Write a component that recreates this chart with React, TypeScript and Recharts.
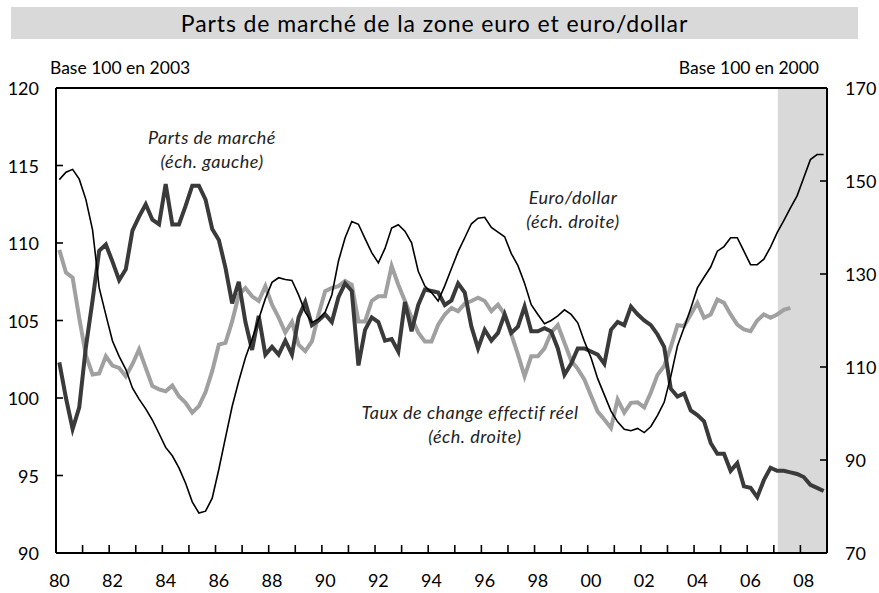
import React from 'react';
import { ComposedChart, Line, XAxis, YAxis, ReferenceArea, ReferenceLine } from 'recharts';

// Quarterly data, 1980Q1 .. 2008Q4
const firstYear = 1980;
const lastYear = 2009;

// Parts de marché (base 100 en 2003, échelle gauche)
const partsDeMarche = [
  102.3, 100.0, 98.0, 99.4, 103.3, 106.3, 109.5, 109.9, 108.8, 107.6,
  108.3, 110.8, 111.7, 112.5, 111.5, 111.2, 113.8, 111.2, 111.2, 112.4,
  113.7, 113.7, 112.8, 110.9, 110.2, 108.4, 106.1, 107.5, 104.9, 103.1,
  105.3, 102.8, 103.3, 102.8, 103.7, 102.8, 105.2, 106.2, 104.7, 105.0,
  105.4, 104.9, 106.5, 107.4, 106.9, 102.1, 104.4, 105.2, 104.9, 103.7,
  103.8, 103.0, 106.2, 104.3, 106.0, 107.0, 106.9, 106.8, 106.0, 106.3,
  107.4, 106.8, 104.6, 103.2, 104.4, 103.7, 104.2, 105.4, 104.2, 104.6,
  105.9, 104.3, 104.3, 104.5, 104.3, 103.2, 101.5, 102.2, 103.2, 103.2,
  103.0, 102.8, 102.2, 104.4, 104.9, 104.7, 105.9, 105.4, 105.0, 104.7,
  104.1, 103.3, 100.6, 100.1, 100.3, 99.2, 98.9, 98.5, 97.1, 96.4,
  96.4, 95.3, 95.8, 94.3, 94.2, 93.6, 94.7, 95.5, 95.3, 95.3,
  95.2, 95.1, 94.9, 94.4, 94.2, 94.0,
];

// Euro/dollar (base 100 en 2000, échelle droite)
const euroDollar = [
  150.3, 151.9, 152.5, 150.4, 146.0, 139.5, 127.0, 121.2, 115.6, 112.3,
  109.5, 105.5, 103.1, 101.0, 98.6, 95.7, 92.7, 90.9, 88.3, 85.0,
  81.0, 78.6, 79.0, 81.8, 88.0, 94.8, 101.5, 107.0, 112.0, 116.0,
  120.3, 124.7, 128.2, 129.2, 128.8, 128.6, 125.5, 121.8, 119.6, 120.3,
  121.8, 125.5, 132.8, 137.8, 141.3, 140.7, 137.6, 134.6, 132.4, 135.5,
  139.9, 140.6, 139.2, 136.7, 130.6, 127.4, 126.0, 124.2, 127.5, 131.2,
  134.8, 137.8, 140.8, 142.0, 142.2, 140.0, 139.0, 138.0, 134.4, 131.8,
  128.0, 123.4, 121.3, 119.3, 120.0, 121.0, 122.3, 121.3, 119.5, 115.5,
  112.0, 107.5, 104.0, 100.5, 98.2, 96.6, 96.3, 96.8, 95.9, 97.2,
  99.6, 102.4, 108.0, 114.5, 118.5, 122.6, 127.0, 129.3, 131.5, 134.9,
  135.9, 137.8, 137.8, 134.9, 132.0, 132.0, 133.2, 135.8, 138.9, 141.5,
  144.2, 146.8, 150.7, 154.6, 155.7, 155.7,
];

// Taux de change effectif réel (échelle droite), jusqu'à 2007T3
const tcer = [
  135.2, 130.3, 129.2, 120.5, 112.5, 108.4, 108.6, 112.3, 110.3, 109.8,
  108.0, 110.6, 113.8, 109.8, 105.9, 105.2, 104.8, 106.0, 103.7, 102.3,
  100.2, 101.6, 104.6, 109.1, 114.8, 115.2, 119.8, 125.5, 127.0, 125.2,
  124.2, 127.4, 123.4, 120.6, 117.4, 119.7, 114.8, 113.4, 115.5, 121.3,
  126.3, 127.0, 127.4, 128.5, 127.7, 119.8, 119.8, 124.2, 125.2, 125.2,
  131.7, 127.7, 124.2, 120.6, 117.4, 115.5, 115.5, 119.1, 121.3, 122.7,
  122.0, 123.6, 124.2, 124.9, 124.2, 122.0, 123.4, 121.3, 117.0, 112.7,
  108.0, 112.3, 112.3, 114.0, 117.4, 119.0, 115.2, 111.4, 109.6, 107.3,
  103.8, 100.4, 98.7, 96.9, 103.0, 100.2, 102.3, 102.4, 101.3, 104.5,
  108.3, 110.2, 114.3, 119.0, 118.8, 121.3, 123.8, 120.6, 121.3, 124.5,
  123.8, 121.3, 119.1, 118.1, 117.7, 120.0, 121.3, 120.6, 121.3, 122.3,
  122.7,
];

const leftTicks = [90, 95, 100, 105, 110, 115, 120];
const rightTicks = [70, 90, 110, 130, 150, 170];
const labelYears = [1980, 1982, 1984, 1986, 1988, 1990, 1992, 1994, 1996, 1998, 2000, 2002, 2004, 2006, 2008];
const forecastStart = 2007.15;

const data = partsDeMarche.map((v, i) => ({
  t: firstYear + (i + 0.5) / 4,
  pdm: v,
  ed: euroDollar[i],
  tcer: i < tcer.length ? tcer[i] : null,
}));

// tick marks at each year boundary, labels at the first quarter of even years
const yearBoundaries: number[] = [];
for (let y = firstYear; y <= lastYear; y++) yearBoundaries.push(y);
const labelPositions = labelYears.map((y) => y + 0.125);
const xTicks = [...yearBoundaries, ...labelPositions].sort((a, b) => a - b);

const FONT = 'Lato, "Open Sans", sans-serif';

const XTick = (props: any) => {
  const { x, y, payload } = props;
  const v = payload.value as number;
  if (Number.isInteger(v)) {
    if (v <= firstYear || v >= lastYear) return <g />;
    return <line x1={x} x2={x} y1={y} y2={y - 8} stroke="#000" strokeWidth={1.6} />;
  }
  const yr = Math.floor(v) % 100;
  return (
    <text x={x} y={y + 27} textAnchor="middle" dominantBaseline="central" fontFamily={FONT} fontSize={18} fill="#000">
      {String(yr).padStart(2, '0')}
    </text>
  );
};

const LeftTick = (props: any) => {
  const { x, y, payload } = props;
  const v = payload.value as number;
  return (
    <g>
      {v !== 90 && v !== 120 && <line x1={x} x2={x + 7} y1={y} y2={y} stroke="#000" strokeWidth={1.6} />}
      <text x={x - 17} y={y} textAnchor="end" dominantBaseline="central" fontFamily={FONT} fontSize={18} fill="#000">
        {v}
      </text>
    </g>
  );
};

const RightTick = (props: any) => {
  const { x, y, payload } = props;
  const v = payload.value as number;
  return (
    <g>
      {v !== 70 && v !== 170 && <line x1={x - 7} x2={x} y1={y} y2={y} stroke="#000" strokeWidth={1.6} />}
      <text x={x + 18} y={y} textAnchor="start" dominantBaseline="central" fontFamily={FONT} fontSize={18} fill="#000">
        {v}
      </text>
    </g>
  );
};

const note: React.CSSProperties = {
  position: 'absolute',
  transform: 'translate(-50%, -50%)',
  whiteSpace: 'nowrap',
  fontStyle: 'italic',
  fontSize: 18,
  letterSpacing: 0.5,
  color: '#222',
  fontFamily: FONT,
};

export default function App() {
  return (
    <div style={{ position: 'absolute', left: 0, top: 0, width: 879, height: 593, background: '#fff', fontFamily: FONT }}>
      <div
        style={{
          position: 'absolute',
          left: 11,
          top: 7,
          width: 847,
          height: 32,
          background: '#d9d9d9',
          textAlign: 'center',
          lineHeight: '32px',
          fontSize: 23,
          letterSpacing: 0.9,
          color: '#000',
        }}
      >
        Parts de marché de la zone euro et euro/dollar
      </div>
      <div style={{ position: 'absolute', left: 50, top: 58, fontSize: 17.5, lineHeight: '20px', color: '#000' }}>Base 100 en 2003</div>
      <div style={{ position: 'absolute', right: 879 - 819, top: 58, fontSize: 17.5, lineHeight: '20px', color: '#000' }}>Base 100 en 2000</div>

      <div style={{ position: 'absolute', left: 0, top: 0 }}>
        <ComposedChart width={879} height={593} data={data} margin={{ top: 88, right: 0, bottom: 0, left: 0 }}>
          <XAxis
            dataKey="t"
            type="number"
            domain={[firstYear, lastYear]}
            allowDataOverflow
            ticks={xTicks}
            interval={0}
            tick={<XTick />}
            tickLine={false}
            tickSize={0}
            tickMargin={0}
            height={40}
            axisLine={{ stroke: '#000', strokeWidth: 2 }}
          />
          <YAxis
            yAxisId="left"
            orientation="left"
            domain={[90, 120]}
            ticks={leftTicks}
            interval={0}
            allowDataOverflow
            width={56}
            tick={<LeftTick />}
            tickLine={false}
            tickSize={0}
            tickMargin={0}
            axisLine={{ stroke: '#000', strokeWidth: 2 }}
          />
          <YAxis
            yAxisId="right"
            orientation="right"
            domain={[70, 170]}
            ticks={rightTicks}
            interval={0}
            allowDataOverflow
            width={52}
            tick={<RightTick />}
            tickLine={false}
            tickSize={0}
            tickMargin={0}
            axisLine={{ stroke: '#000', strokeWidth: 2 }}
          />
          <ReferenceArea
            yAxisId="right"
            x1={forecastStart}
            x2={lastYear}
            y1={70}
            y2={170}
            fill="#d9d9d9"
            fillOpacity={1}
            stroke="none"
          />
          <ReferenceLine yAxisId="left" y={120} stroke="#000" strokeWidth={2} />
          <Line
            yAxisId="right"
            dataKey="tcer"
            type="linear"
            stroke="#a0a0a0"
            strokeWidth={4}
            dot={false}
            activeDot={false}
            isAnimationActive={false}
          />
          <Line
            yAxisId="left"
            dataKey="pdm"
            type="linear"
            stroke="#3a3a3a"
            strokeWidth={4}
            dot={false}
            activeDot={false}
            isAnimationActive={false}
          />
          <Line
            yAxisId="right"
            dataKey="ed"
            type="linear"
            stroke="#000"
            strokeWidth={1.6}
            dot={false}
            activeDot={false}
            isAnimationActive={false}
          />
        </ComposedChart>
      </div>

      <div style={{ ...note, left: 212, top: 137 }}>Parts de marché</div>
      <div style={{ ...note, left: 212, top: 161 }}>(éch. gauche)</div>
      <div style={{ ...note, left: 573, top: 197 }}>Euro/dollar</div>
      <div style={{ ...note, left: 573, top: 221 }}>(éch. droite)</div>
      <div style={{ ...note, left: 470, top: 412 }}>Taux de change effectif réel</div>
      <div style={{ ...note, left: 475, top: 436 }}>(éch. droite)</div>
    </div>
  );
}
